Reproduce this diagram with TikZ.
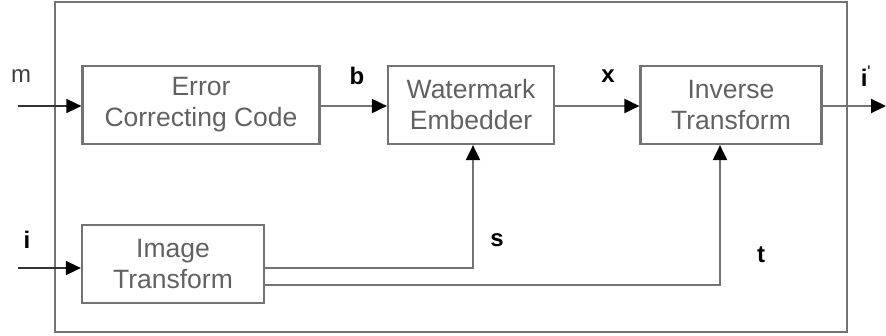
\documentclass[tikz,border=0pt]{standalone}
\usepackage{fontspec}
\setmainfont{Liberation Sans}
\usetikzlibrary{arrows.meta}
\begin{document}
\begin{tikzpicture}[x=1pt,y=-1pt,
  blockbox/.style={draw=black!55,line width=2.2pt,minimum height=78pt,
    inner sep=0pt,align=center,text=black!62,font=\fontsize{26.5}{31}\selectfont},
  wire/.style={draw=black!55,line width=2pt},
  feed/.style={wire,-{Triangle[length=15pt,width=14pt,fill=black,color=black]}},
  sig/.style={font=\bfseries\fontsize{24}{27}\selectfont,text=black},
  plain/.style={font=\fontsize{24}{27}\selectfont,text=black!75}]
\useasboundingbox (0,0) rectangle (886,335);
% enclosing frame
\draw[draw=black!55,line width=2.2pt] (55,2) rectangle (847,332);
% processing blocks
\node[blockbox,minimum width=237pt] (ecc) at (201,105) {Error\\Correcting Code};
\node[blockbox,minimum width=166pt] (wme) at (471,105) {Watermark\\Embedder};
\node[blockbox,minimum width=181pt] (inv) at (731,105) {Inverse\\Transform};
\node[blockbox,minimum width=182pt] (imt) at (173,264) {Image\\Transform};
% free ends of the external connectors
\coordinate (min) at (18,106);
\coordinate (iin) at (18,268);
\coordinate (iout) at (886,106);
\coordinate (sbend) at (473,268);
\coordinate (tbend) at (720,285);
% connectors
\draw[feed,draw=black!80,line width=1.6pt] (min) -- (ecc.west |- min);
\draw[feed,draw=black!80,line width=1.6pt] (iin) -- (imt.west |- iin);
\draw[feed] (ecc.east |- min) -- (wme.west |- min);
\draw[feed] (wme.east |- min) -- (inv.west |- min);
\draw[feed] (inv.east |- iout) -- (iout);
\draw[feed] (imt.east |- sbend) -- (sbend) -- (sbend |- wme.south);
\draw[feed] (imt.east |- tbend) -- (tbend) -- (tbend |- inv.south);
% signal labels
\node[plain] (lm) at (21,76) {m};
\node[sig] (lb) at (357,76) {b};
\node[sig] (lx) at (608,76) {x};
\node[sig] (lo) at (866,76) {i\textsuperscript{\mdseries\textquotesingle}};
\node[sig] (li) at (27,240) {i};
\node[sig] (ls) at (497,240) {s};
\node[sig] (lt) at (761,255) {t};
\end{tikzpicture}
\end{document}
